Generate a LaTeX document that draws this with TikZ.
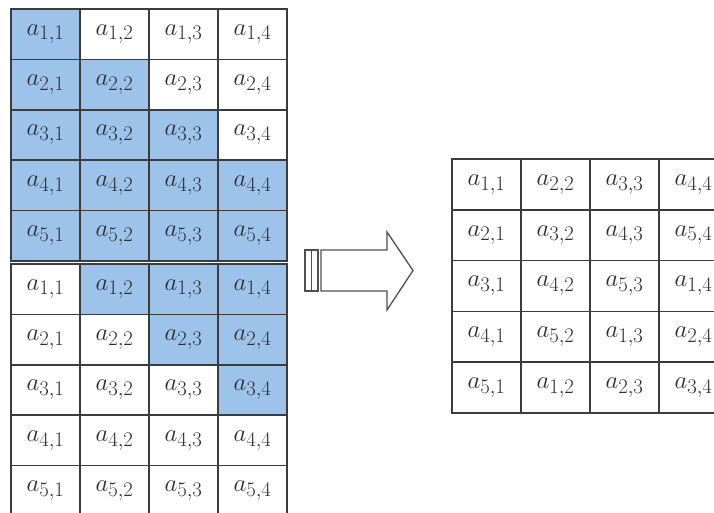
\documentclass[tikz,border=0pt]{standalone}
\definecolor{cellblue}{RGB}{157,195,235}
\definecolor{gridline}{RGB}{60,60,60}
\definecolor{arrowline}{RGB}{80,80,80}
\definecolor{textcol}{RGB}{45,45,55}
\begin{document}
\begin{tikzpicture}[x=1pt,y=-1pt,
  cell/.style={draw=gridline, line width=1.6pt, minimum width=69pt, minimum height=50.4pt,
    inner sep=0pt, outer sep=0pt, anchor=north west, font=\Huge, text=textcol},
  rcell/.style={cell, minimum height=50.8pt},
  arrowshape/.style={draw=arrowline, line width=1.3pt, fill=white, line join=miter}]
\clip (0,0) rectangle (714,512);
\fill[white] (0,0) rectangle (714,512);
% upper left table
\foreach \r in {1,...,5} \foreach \c in {1,...,4} {
  \edef\fc{\ifnum\c>\r white\else cellblue\fi}
  \node[cell, fill=\fc] (T-\r-\c) at ({11+69*(\c-1)},{9+50.4*(\r-1)}) {$a_{\r,\c}$};
}
% lower left table
\foreach \r in {1,...,5} \foreach \c in {1,...,4} {
  \edef\fc{\ifnum\c>\r cellblue\else white\fi}
  \node[cell, fill=\fc] (B-\r-\c) at ({11+69*(\c-1)},{264+50.4*(\r-1)}) {$a_{\r,\c}$};
}
% right table
\foreach \r in {1,...,5} \foreach \c in {1,...,4} {
  \pgfmathtruncatemacro\k{mod(\r+\c-2,5)+1}
  \node[rcell, fill=white] (R-\r-\c) at ({452+69*(\c-1)},{159+50.8*(\r-1)}) {$a_{\k,\c}$};
}
% block arrow
\draw[arrowshape] (321,250) -- (387,250) -- (387,232) -- (413,270.5) -- (387,310) -- (387,291) -- (321,291) -- cycle;
\draw[arrowshape] (305,250) rectangle (311.5,291);
\draw[arrowshape] (311.5,250) rectangle (318,291);
\end{tikzpicture}
\end{document}
